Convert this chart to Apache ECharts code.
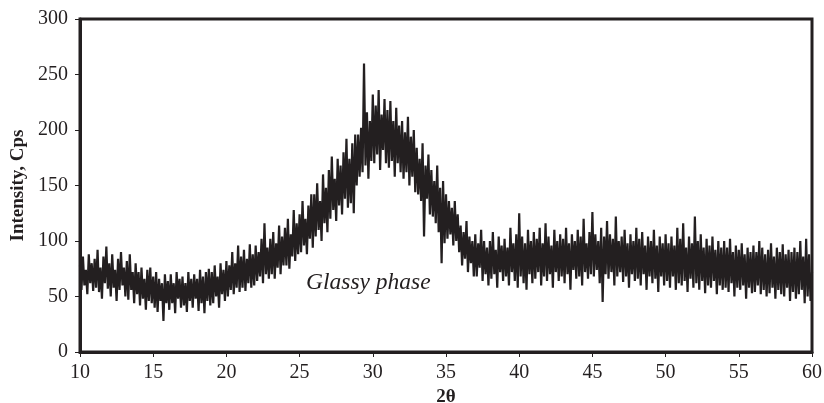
<!DOCTYPE html>
<html>
<head>
<meta charset="utf-8">
<title>XRD</title>
<script src="https://cdn.jsdelivr.net/npm/echarts@6/dist/echarts.min.js"></script>
<style>
  html, body { margin: 0; padding: 0; background: #fff; }
  #chart { width: 824px; height: 403px; }
</style>
</head>
<body>
<div id="chart"></div>
<script>
// scan: 2theta from 10 to 60, step 0.1
const START = 10
const STEP = 0.1
const xTicks = [10, 15, 20, 25, 30, 35, 40, 45, 50, 55, 60]
const yTicks = [0, 50, 100, 150, 200, 250, 300]
// intensity, 10 points per degree
const intensity = [
  78, 56, 86, 60, 74, 52, 88, 62, 80, 55,
  84, 58, 92, 54, 76, 48, 86, 62, 95, 57,
  80, 50, 88, 58, 74, 46, 84, 56, 90, 60,
  76, 50, 82, 47, 88, 56, 72, 44, 80, 52,
  72, 42, 76, 48, 66, 38, 74, 46, 76, 44,
  68, 40, 72, 36, 66, 46, 62, 28, 70, 44,
  64, 38, 70, 44, 62, 35, 72, 48, 66, 40,
  68, 42, 62, 36, 72, 46, 66, 40, 70, 48,
  66, 37, 74, 44, 68, 35, 72, 46, 75, 42,
  72, 44, 78, 50, 68, 40, 80, 52, 74, 46,
  82, 50, 78, 56, 90, 52, 80, 58, 96, 54,
  86, 58, 92, 55, 84, 62, 97, 58, 88, 60,
  96, 64, 90, 68, 102, 62, 116, 70, 94, 66,
  102, 70, 108, 66, 98, 76, 114, 70, 104, 78,
  112, 78, 120, 75, 106, 86, 128, 82, 116, 88,
  124, 90, 136, 96, 120, 88, 132, 102, 142, 94,
  142, 104, 152, 110, 136, 100, 160, 116, 148, 108,
  164, 120, 176, 128, 156, 118, 174, 132, 168, 124,
  180, 138, 192, 130, 174, 134, 188, 125, 196, 150,
  196, 158, 202, 162, 260, 168, 216, 156, 208, 172,
  232, 170, 222, 178, 236, 164, 214, 182, 228, 170,
  218, 166, 226, 172, 208, 158, 220, 170, 204, 162,
  208, 156, 198, 162, 212, 150, 194, 158, 200, 144,
  184, 142, 174, 136, 188, 104, 168, 138, 178, 124,
  164, 122, 154, 116, 168, 108, 148, 80, 154, 98,
  142, 102, 136, 106, 130, 96, 136, 100, 124, 90,
  114, 78, 108, 84, 118, 72, 104, 80, 100, 68,
  106, 68, 98, 76, 110, 64, 100, 70, 94, 60,
  100, 66, 108, 70, 92, 58, 104, 72, 96, 64,
  102, 68, 94, 60, 112, 72, 98, 64, 106, 58,
  125, 68, 104, 62, 98, 56, 110, 70, 100, 62,
  108, 66, 102, 72, 112, 60, 98, 68, 116, 64,
  104, 70, 96, 58, 110, 72, 100, 64, 106, 68,
  102, 62, 112, 70, 98, 56, 106, 74, 100, 66,
  110, 68, 104, 60, 120, 72, 98, 66, 108, 70,
  126, 68, 106, 74, 100, 62, 112, 45, 104, 70,
  118, 66, 106, 72, 102, 60, 122, 68, 100, 72,
  104, 63, 110, 68, 98, 58, 106, 70, 100, 64,
  112, 66, 102, 60, 108, 70, 96, 56, 104, 68,
  100, 62, 110, 66, 96, 54, 104, 68, 98, 60,
  106, 64, 98, 58, 104, 68, 96, 56, 112, 62,
  102, 60, 116, 64, 94, 54, 104, 66, 98, 58,
  122, 62, 100, 56, 106, 64, 94, 53, 102, 60,
  96, 58, 104, 64, 92, 52, 100, 60, 94, 56,
  100, 58, 94, 54, 102, 62, 90, 50, 96, 58,
  92, 56, 98, 60, 88, 48, 94, 58, 90, 53,
  96, 54, 90, 60, 100, 52, 94, 56, 88, 50,
  92, 53, 98, 58, 86, 48, 94, 56, 90, 52,
  97, 50, 88, 58, 92, 46, 90, 54, 94, 48,
  90, 52, 100, 56, 86, 44, 102, 50, 88, 46,
  72
]

const INK = '#231f20'
const SERIF = '"Liberation Serif", "Times New Roman", serif'

let points = intensity.map((v, i) => [+(START + i * STEP).toFixed(1), v])

let myChart = echarts.init(document.getElementById('chart'))
myChart.setOption({
  animation: false,
  grid: {
    left: 80,
    right: 12,
    top: 19,
    bottom: 51,
    outerBoundsMode: 'none',
    containLabel: false,
    show: true,
    borderColor: INK,
    borderWidth: 3
  },
  xAxis: {
    type: 'value',
    min: xTicks[0],
    max: xTicks[xTicks.length - 1],
    interval: 5,
    name: '2θ',
    nameLocation: 'middle',
    nameGap: 34,
    nameTextStyle: { color: INK, fontFamily: SERIF, fontSize: 19, fontWeight: 'bold' },
    axisLine: { lineStyle: { color: INK, width: 3 } },
    axisTick: { show: true, length: 5, lineStyle: { color: INK, width: 1 } },
    axisLabel: { color: INK, fontFamily: SERIF, fontSize: 20, margin: 11 },
    splitLine: { show: false }
  },
  yAxis: {
    type: 'value',
    min: yTicks[0],
    max: yTicks[yTicks.length - 1],
    interval: 50,
    name: 'Intensity, Cps',
    nameLocation: 'middle',
    nameGap: 52,
    nameTextStyle: { color: INK, fontFamily: SERIF, fontSize: 19, fontWeight: 'bold' },
    axisLine: { show: true, lineStyle: { color: INK, width: 3 } },
    axisTick: { show: true, length: 5, lineStyle: { color: INK, width: 1 } },
    axisLabel: { color: INK, fontFamily: SERIF, fontSize: 20, margin: 12 },
    splitLine: { show: false }
  },
  graphic: [
    {
      type: 'text',
      left: 306,
      top: 271,
      style: {
        text: 'Glassy phase',
        fill: INK,
        font: 'italic 23.5px ' + SERIF
      }
    }
  ],
  series: [
    {
      type: 'line',
      data: points,
      symbol: 'none',
      lineStyle: { color: INK, width: 2.2 }
    }
  ]
})
</script>
</body>
</html>
